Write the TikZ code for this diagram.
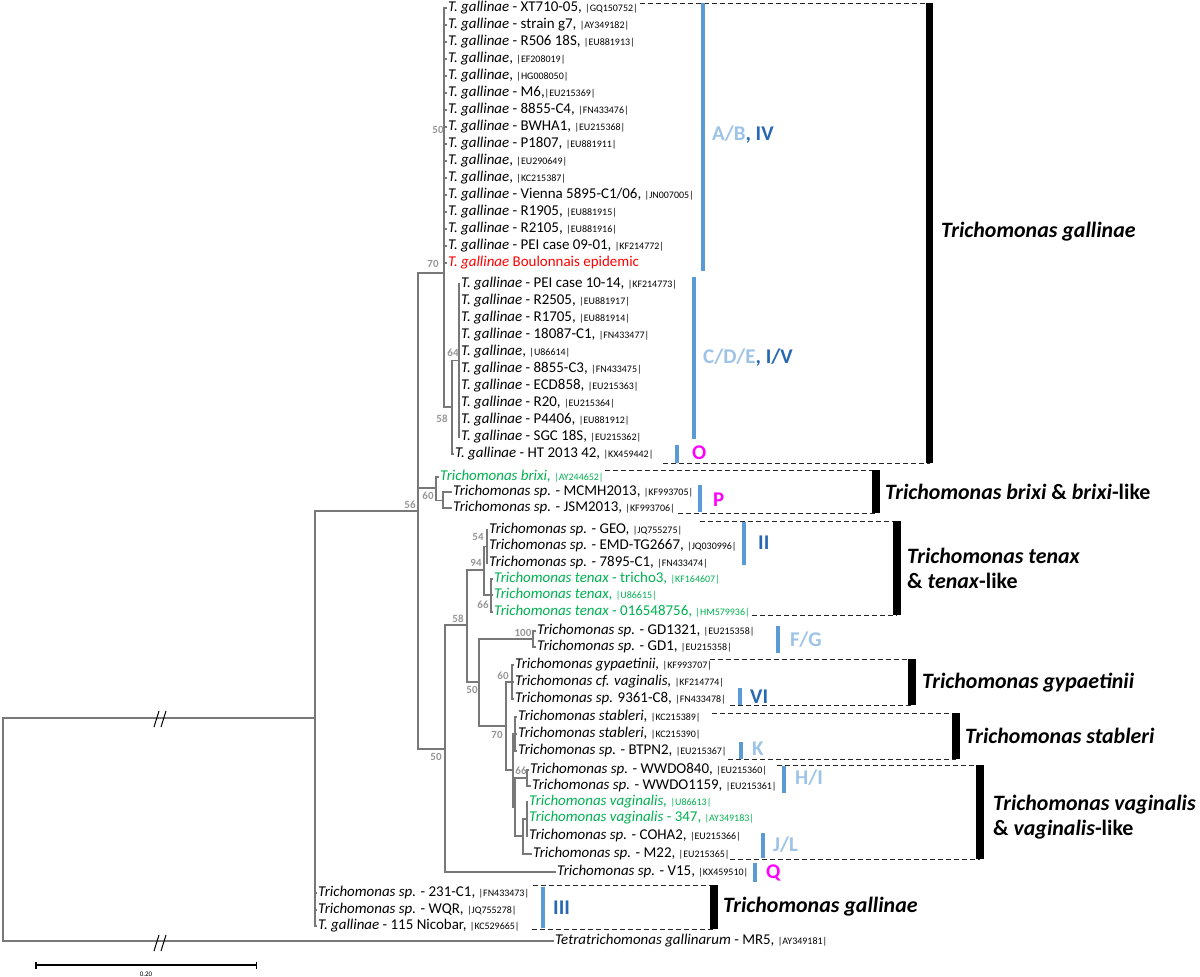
\documentclass[tikz,border=0pt]{standalone}
\usepackage{fontspec}
\setmainfont{Carlito}
\usepackage{xcolor}
\usetikzlibrary{arrows.meta}
\definecolor{branchgray}{RGB}{120,120,120}
\definecolor{bootgray}{RGB}{150,150,150}
\definecolor{leafgreen}{RGB}{0,176,80}
\definecolor{barblue}{RGB}{91,155,213}
\definecolor{lightblue}{RGB}{157,195,230}
\definecolor{darkblue}{RGB}{38,104,178}
\definecolor{epired}{RGB}{255,0,0}
\definecolor{cladepink}{RGB}{255,0,255}
\newcommand{\accfont}{\fontsize{10}{10}\selectfont}
\newcommand{\acc}[1]{{\accfont|#1|}}
\newcommand{\tg}{\textit{T. gallinae}}
\newcommand{\tsp}{\textit{Trichomonas sp.}}

\begin{document}
\begin{tikzpicture}[
        x=1bp, y=-1bp,
        every node/.style={inner sep=0pt},
        leaf/.style={anchor=west, inner xsep=1bp, inner ysep=0pt, text height=10bp, text depth=3bp, font=\fontsize{15}{17}\selectfont},
        boot/.style={text=bootgray, font=\fontsize{11}{11}\selectfont\bfseries},
        branch/.style={draw=branchgray, line width=1.3bp},
        dashline/.style={draw=black!85, line width=1bp, dash pattern=on 5bp off 3bp},
        groupbar/.style={draw=black, line width=7.5bp},
        cladebar/.style={draw=barblue, line width=4bp},
        groupname/.style={anchor=west, align=left, font=\fontsize{22}{25}\selectfont\bfseries},
        cladename/.style={anchor=west, font=\fontsize{21}{21}\selectfont\bfseries},
    ]
        \useasboundingbox (0,0) rectangle (1200,977);

        % T. gallinae A/B
        \node[leaf] (l0) at (447,8) {\tg{} - XT710-05, \acc{GQ150752}};
        \node[leaf] (l1) at (447,25) {\tg{} - strain g7, \acc{AY349182}};
        \node[leaf] (l2) at (447,42) {\tg{} - R506 18S, \acc{EU881913}};
        \node[leaf] (l3) at (447,59) {\tg, \acc{EF208019}};
        \node[leaf] (l4) at (447,76) {\tg, \acc{HG008050}};
        \node[leaf] (l5) at (447,93) {\tg{} - M6,\acc{EU215369}};
        \node[leaf] (l6) at (447,110) {\tg{} - 8855-C4, \acc{FN433476}};
        \node[leaf] (l7) at (447,127) {\tg{} - BWHA1, \acc{EU215368}};
        \node[leaf] (l8) at (447,144) {\tg{} - P1807, \acc{EU881911}};
        \node[leaf] (l9) at (447,161) {\tg, \acc{EU290649}};
        \node[leaf] (l10) at (447,178) {\tg, \acc{KC215387}};
        \node[leaf] (l11) at (447,195) {\tg{} - Vienna 5895-C1/06, \acc{JN007005}};
        \node[leaf] (l12) at (447,212) {\tg{} - R1905, \acc{EU881915}};
        \node[leaf] (l13) at (447,229) {\tg{} - R2105, \acc{EU881916}};
        \node[leaf] (l14) at (447,246) {\tg{} - PEI case 09-01, \acc{KF214772}};
        \node[leaf, text=epired] (l15) at (447,263) {\tg{} Boulonnais epidemic};

        % T. gallinae C/D/E
        \node[leaf] (l16) at (460,284) {\tg{} - PEI case 10-14, \acc{KF214773}};
        \node[leaf] (l17) at (460,301) {\tg{} - R2505, \acc{EU881917}};
        \node[leaf] (l18) at (460,318) {\tg{} - R1705, \acc{EU881914}};
        \node[leaf] (l19) at (460,335) {\tg{} - 18087-C1, \acc{FN433477}};
        \node[leaf] (l20) at (460,352) {\tg, \acc{U86614}};
        \node[leaf] (l21) at (460,369) {\tg{} - 8855-C3, \acc{FN433475}};
        \node[leaf] (l22) at (460,386) {\tg{} - ECD858, \acc{EU215363}};
        \node[leaf] (l23) at (460,403) {\tg{} - R20, \acc{EU215364}};
        \node[leaf] (l24) at (460,420) {\tg{} - P4406, \acc{EU881912}};
        \node[leaf] (l25) at (460,437) {\tg{} - SGC 18S, \acc{EU215362}};
        \node[leaf] (l26) at (454,454) {\tg{} - HT 2013 42, \acc{KX459442}};

        % brixi
        \node[leaf, text=leafgreen] (l27) at (439,477) {\textit{Trichomonas brixi,} \acc{AY244652}};
        \node[leaf] (l28) at (452,492) {\tsp{} - MCMH2013, \acc{KF993705}};
        \node[leaf] (l29) at (452,508) {\tsp{} - JSM2013, \acc{KF993706}};

        % tenax
        \node[leaf] (l30) at (488,530) {\tsp{} - GEO, \acc{JQ755275}};
        \node[leaf] (l31) at (488,546) {\tsp{} - EMD-TG2667, \acc{JQ030996}};
        \node[leaf] (l32) at (488,563) {\tsp{} - 7895-C1, \acc{FN433474}};
        \node[leaf, text=leafgreen] (l33) at (493,579) {\textit{Trichomonas tenax} - tricho3, \acc{KF164607}};
        \node[leaf, text=leafgreen] (l34) at (493,595) {\textit{Trichomonas tenax,} \acc{U86615}};
        \node[leaf, text=leafgreen] (l35) at (493,612) {\textit{Trichomonas tenax} - 016548756, \acc{HM579936}};

        % GD, gypaetinii, stableri
        \node[leaf] (l36) at (536,631) {\tsp{} - GD1321, \acc{EU215358}};
        \node[leaf] (l37) at (536,647) {\tsp{} - GD1, \acc{EU215358}};
        \node[leaf] (l38) at (514,665) {\textit{Trichomonas gypaetinii,} \acc{KF993707}};
        \node[leaf] (l39) at (514,682) {\textit{Trichomonas cf. vaginalis,} \acc{KF214774}};
        \node[leaf] (l40) at (514,699) {\tsp{} 9361-C8, \acc{FN433478}};
        \node[leaf] (l41) at (517,717) {\textit{Trichomonas stableri,} \acc{KC215389}};
        \node[leaf] (l42) at (517,734) {\textit{Trichomonas stableri,} \acc{KC215390}};
        \node[leaf] (l43) at (517,751) {\tsp{} - BTPN2, \acc{EU215367}};

        % vaginalis
        \node[leaf] (l44) at (529,770) {\tsp{} - WWDO840, \acc{EU215360}};
        \node[leaf] (l45) at (531,786) {\tsp{} - WWDO1159, \acc{EU215361}};
        \node[leaf, text=leafgreen] (l46) at (528,802) {\textit{Trichomonas vaginalis,} \acc{U86613}};
        \node[leaf, text=leafgreen] (l47) at (528,818) {\textit{Trichomonas vaginalis} - 347, \acc{AY349183}};
        \node[leaf] (l48) at (528,836) {\tsp{} - COHA2, \acc{EU215366}};
        \node[leaf] (l49) at (532,854) {\tsp{} - M22, \acc{EU215365}};
        \node[leaf] (l50) at (556,872) {\tsp{} - V15, \acc{KX459510}};

        % T. gallinae III and outgroup
        \node[leaf] (l51) at (317,893) {\tsp{} - 231-C1, \acc{FN433473}};
        \node[leaf] (l52) at (317,910) {\tsp{} - WQR, \acc{JQ755278}};
        \node[leaf] (l53) at (317,926) {\tg{} - 115 Nicobar, \acc{KC529665}};
        \node[leaf] (l54) at (554,941) {\textit{Tetratrichomonas gallinarum} - MR5, \acc{AY349181}};

        % Internal nodes
        \coordinate (n0) at (3,830);
        \coordinate (n1) at (315,718);
        \coordinate (n2) at (418,511);
        \coordinate (n3) at (444,273);
        \coordinate (nAB) at (444,135.5);
        \coordinate (n4) at (452,407);
        \coordinate (nCDE) at (459,360.5);
        \coordinate (nBx) at (436,488);
        \coordinate (nMJ) at (443,500.5);
        \coordinate (n10) at (445,749);
        \coordinate (n11) at (467,625);
        \coordinate (n12) at (484,570);
        \coordinate (nGEO) at (487,546.5);
        \coordinate (nTnx) at (491,595);
        \coordinate (n13) at (479,682);
        \coordinate (nGD) at (533,639);
        \coordinate (n14) at (506,726);
        \coordinate (nGyp) at (512,682);
        \coordinate (n15) at (513,770);
        \coordinate (nStb) at (515,734);
        \coordinate (n16) at (515,807);
        \coordinate (nWW) at (527,778);
        \coordinate (n17) at (523,836);
        \coordinate (nVag) at (527,819);

        % Branches
        \foreach \p/\c in {n0/n1, n0/l54.west, n1/n2, n1/l51.west, n1/l52.west, n1/l53.west,
            n2/n3, n2/nBx, n2/n10, n3/nAB, n3/n4, n4/nCDE, n4/l26.west,
            nBx/l27.west, nBx/nMJ, nMJ/l28.west, nMJ/l29.west,
            n10/n11, n10/l50.west, n11/n12, n11/n13, n12/nGEO, n12/nTnx,
            n13/nGD, n13/n14, nGD/l36.west, nGD/l37.west, n14/nGyp, n14/n15,
            n15/nStb, n15/n16, n16/nWW, n16/n17, nWW/l44.west, nWW/l45.west,
            n17/nVag, n17/l49.west}
            \draw[branch] (\p) |- (\c);
        \foreach \i in {0,...,15} \draw[branch] (nAB) |- (l\i.west);
        \foreach \i in {16,...,25} \draw[branch] (nCDE) |- (l\i.west);
        \foreach \i in {30,31,32} \draw[branch] (nGEO) |- (l\i.west);
        \foreach \i in {33,34,35} \draw[branch] (nTnx) |- (l\i.west);
        \foreach \i in {38,39,40} \draw[branch] (nGyp) |- (l\i.west);
        \foreach \i in {41,42,43} \draw[branch] (nStb) |- (l\i.west);
        \foreach \i in {46,47,48} \draw[branch] (nVag) |- (l\i.west);

        % Broken branches
        \foreach \y in {718,942} {
            \draw[line width=1bp] (154,\y+9) -- (159,\y-7);
            \draw[line width=1bp] (161,\y+9) -- (166,\y-7);
        }

        % Bootstrap values
        \node[boot] (b56) at (410,505) {56};
        \node[boot] (b70a) at (433,264) {70};
        \node[boot] (b50a) at (438,130) {50};
        \node[boot] (b58a) at (442,419) {58};
        \node[boot] (b64) at (453,353) {64};
        \node[boot] (b60a) at (428,496) {60};
        \node[boot] (b50b) at (436,757) {50};
        \node[boot] (b58b) at (458,619) {58};
        \node[boot] (b94) at (476,563) {94};
        \node[boot] (b54) at (478,537) {54};
        \node[boot] (b66a) at (483,605) {66};
        \node[boot] (b50c) at (472,690) {50};
        \node[boot] (b100) at (523,633) {100};
        \node[boot] (b60b) at (503,676) {60};
        \node[boot] (b70b) at (497,735) {70};
        \node[boot] (b66b) at (521,771) {66};

        % Group brackets
        \foreach \ya/\yb/\xa/\xb/\xc in {3/463/640/663/929.5, 470/513/605/678/876, 521/615/700/752/897,
            659/705/710/730/912, 713/759/712/728/956, 765/859/777/730/980, 885/929/533/532/714} {
            \draw[dashline] (\xa,\ya) -- (\xc,\ya);
            \draw[dashline] (\xb,\yb) -- (\xc,\yb);
            \draw[groupbar] (\xc,\ya) -- (\xc,\yb);
        }
        \node[groupname] (g1) at (941,232) {\textit{Trichomonas gallinae}};
        \node[groupname] (g2) at (885,492) {\textit{Trichomonas brixi} \& \textit{brixi}-like};
        \node[groupname] (g3) at (907,568) {\textit{Trichomonas tenax}\\\& \textit{tenax}-like};
        \node[groupname] (g4) at (922,683) {\textit{Trichomonas gypaetinii}};
        \node[groupname] (g5) at (965,736) {\textit{Trichomonas stableri}};
        \node[groupname] (g6) at (993,817) {\textit{Trichomonas vaginalis}\\\& \textit{vaginalis}-like};
        \node[groupname] (g7) at (723,907) {\textit{Trichomonas gallinae}};

        % Clade bars
        \foreach \x/\ya/\yb in {703/3/271, 694/277/439, 677/445/463, 700/485/512, 744/522/565, 778/626/653,
            740/688/705, 741/742/759, 784/766/793, 763/833/858, 755/863/882, 543/887/928}
            \draw[cladebar] (\x,\ya) -- (\x,\yb);
        \node[cladename] (cAB) at (712,135) {{\color{lightblue}A/B}{\color{darkblue}, IV}};
        \node[cladename] (cCDE) at (703,358) {{\color{lightblue}C/D/E}{\color{darkblue}, I/V}};
        \node[cladename, text=cladepink] (cO) at (692,453) {O};
        \node[cladename, text=cladepink] (cP) at (713,500) {P};
        \node[cladename, text=darkblue] (cII) at (758,543) {II};
        \node[cladename, text=lightblue] (cFG) at (790,640) {F/G};
        \node[cladename, text=darkblue] (cVI) at (750,697) {VI};
        \node[cladename, text=lightblue] (cK) at (752,749) {K};
        \node[cladename, text=lightblue] (cHI) at (795,778) {H/I};
        \node[cladename, text=lightblue] (cJL) at (773,845) {J/L};
        \node[cladename, text=cladepink] (cQ) at (766,873) {Q};
        \node[cladename, text=darkblue] (cIII) at (553,908) {III};

        % Scale bar
        \coordinate (s0) at (35,965);
        \coordinate (s1) at (257,965);
        \draw[line width=1.5bp, {Bar[width=7bp]}-{Bar[width=7bp]}] (s0) -- (s1);
        \node[font=\fontsize{7}{7}\selectfont] (sl) at (146,974) {0.20};

    \end{tikzpicture}
\end{document}
